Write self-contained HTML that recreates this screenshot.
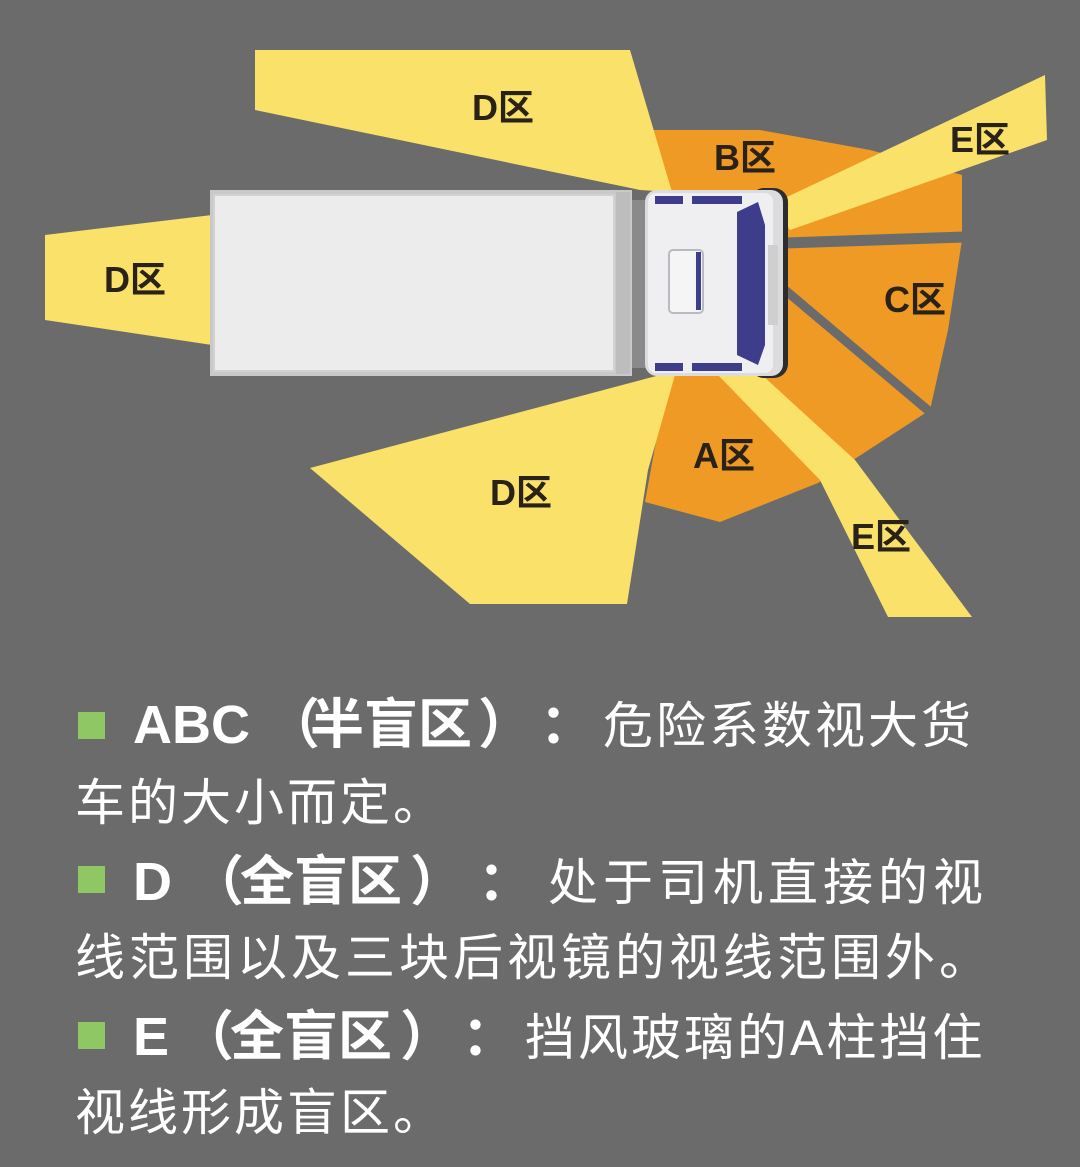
<!DOCTYPE html>
<html><head><meta charset="utf-8"><style>
html,body{margin:0;padding:0}
body{width:1080px;height:1167px;background:#6b6b6b;position:relative;overflow:hidden;font-family:"Liberation Sans","Noto Sans CJK SC",sans-serif}
.t{position:absolute;color:#fff;font-size:50px;line-height:1;white-space:nowrap}
.b{font-weight:bold;font-size:54px}
.sq{position:absolute;width:27px;height:27px;background:#8fc765}
</style></head><body>
<svg width="1080" height="640" style="position:absolute;left:0;top:0" xmlns="http://www.w3.org/2000/svg">
<polygon points="652,130 760,130 870,150 962,175 962,240 948,330 930,410 850,462 818,483 720,522 645,502 668,375 660,190" fill="#ee9a25"/>
<line x1="785" y1="243" x2="965" y2="237" stroke="#6b6b6b" stroke-width="11"/>
<line x1="785" y1="290" x2="930" y2="412" stroke="#6b6b6b" stroke-width="9"/>
<polygon points="255,50 630,50 672,192 640,190 255,110" fill="#f9e16a"/>
<polygon points="45,235 212,215 212,345 45,320" fill="#f9e16a"/>
<polygon points="310,468 660,375 675,375 648,470 627,604 470,604" fill="#f9e16a"/>
<polygon points="770,205 1045,75 1047,140 790,230" fill="#f9e16a"/>
<polygon points="718,375 762,375 855,460 972,617 888,617 820,480" fill="#f9e16a"/>
<!-- trailer -->
<rect x="210" y="190" width="422" height="186" fill="#c9c9c9"/>
<rect x="214" y="195" width="400" height="176" fill="#ececec" stroke="#d2d2d2" stroke-width="2"/>
<rect x="616" y="192" width="14" height="182" fill="#bdbdbd"/>
<rect x="632" y="200" width="14" height="168" fill="#8a8a8a"/>
<!-- cab -->
<rect x="750" y="188" width="38" height="190" rx="14" fill="#2d2d2d"/>
<rect x="645" y="190" width="138" height="186" rx="12" fill="#dcdcdf"/>
<rect x="648" y="193" width="125" height="180" rx="8" fill="#efeff2"/>
<rect x="655" y="196" width="28" height="8" fill="#3d3d8c"/>
<rect x="692" y="196" width="50" height="8" fill="#3d3d8c"/>
<rect x="655" y="363" width="28" height="8" fill="#3d3d8c"/>
<rect x="692" y="363" width="50" height="8" fill="#3d3d8c"/>
<polygon points="737,212 758,202 765,225 765,345 758,365 737,355" fill="#3d3d8c"/>
<rect x="768" y="245" width="10" height="80" fill="#cfcfcf"/>
<rect x="669" y="250" width="34" height="63" rx="4" fill="#f5f5f5" stroke="#b9b9c4" stroke-width="2"/>
<rect x="696" y="252" width="5" height="58" fill="#3d3d8c"/>
<g font-family="Liberation Sans,Noto Sans CJK SC,sans-serif" font-weight="bold" font-size="36" fill="#2a2218">
<text x="472" y="120">D区</text>
<text x="104" y="292">D区</text>
<text x="490" y="505">D区</text>
<text x="714" y="170">B区</text>
<text x="950" y="152">E区</text>
<text x="884" y="312">C区</text>
<text x="693" y="468">A区</text>
<text x="851" y="549">E区</text>
</g>
</svg>

<div class="sq" style="left:78px;top:712px"></div>
<div class="t b" style="left:133px;top:698px">ABC</div>
<div class="t b" style="left:266px;top:698px">（</div>
<div class="t b" style="left:310px;top:698px">半盲区</div>
<div class="t b" style="left:478px;top:698px">）</div>
<div class="t b" style="left:540px;top:698px">：</div>
<div class="t" style="left:603px;top:701px;letter-spacing:3px">危险系数视大货</div>
<div class="t" style="left:75px;top:778px;letter-spacing:3px">车的大小而定。</div>

<div class="sq" style="left:78px;top:866px"></div>
<div class="t b" style="left:133px;top:855px">D</div>
<div class="t b" style="left:190px;top:855px">（</div>
<div class="t b" style="left:240px;top:855px">全盲区</div>
<div class="t b" style="left:410px;top:855px">）</div>
<div class="t b" style="left:478px;top:855px">：</div>
<div class="t" style="left:548px;top:858px;letter-spacing:5px">处于司机直接的视</div>
<div class="t" style="left:75px;top:933px;letter-spacing:4px">线范围以及三块后视镜的视线范围外。</div>

<div class="sq" style="left:78px;top:1022px"></div>
<div class="t b" style="left:133px;top:1010px">E</div>
<div class="t b" style="left:180px;top:1010px">（</div>
<div class="t b" style="left:230px;top:1010px">全盲区</div>
<div class="t b" style="left:400px;top:1010px">）</div>
<div class="t b" style="left:462px;top:1010px">：</div>
<div class="t" style="left:525px;top:1013px;letter-spacing:3px">挡风玻璃的A柱挡住</div>
<div class="t" style="left:75px;top:1088px;letter-spacing:3px">视线形成盲区。</div>
</body></html>
